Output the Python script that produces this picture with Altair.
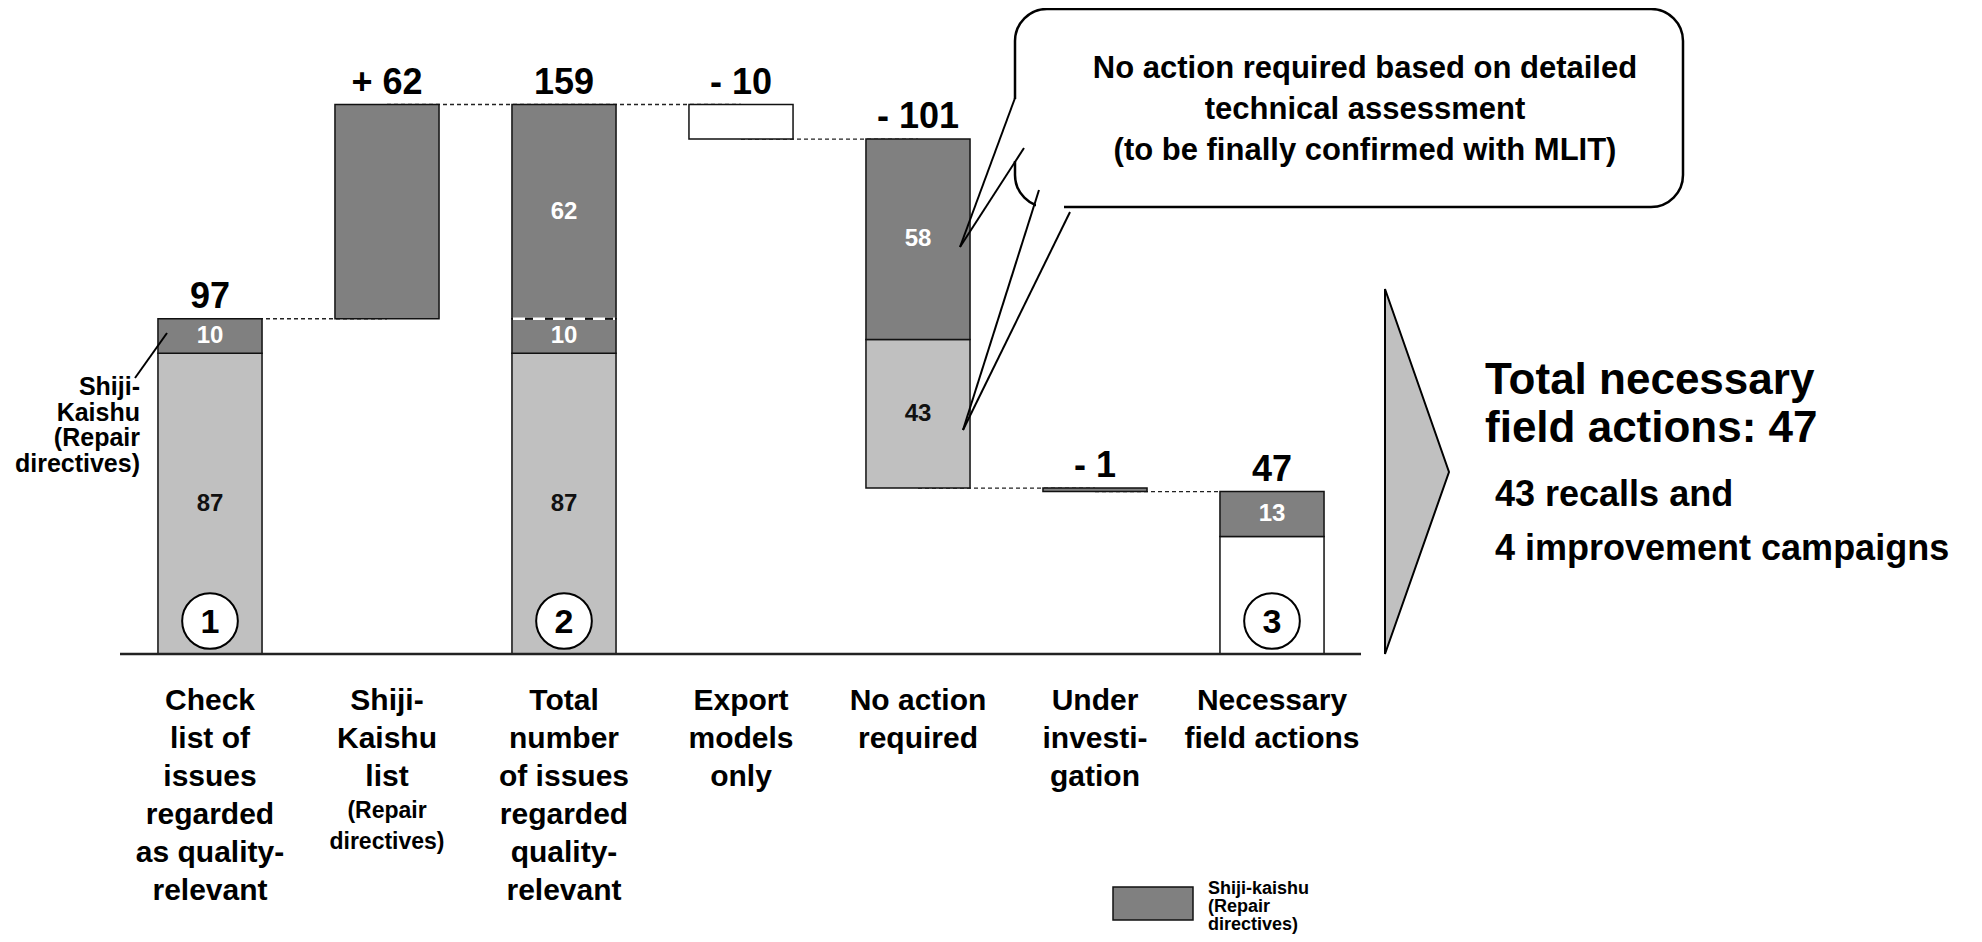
import altair as alt
import pandas as pd

# ---------------- data ----------------
categories = [
    "Check list of issues regarded as quality-relevant",
    "Shiji-Kaishu list",
    "Total number of issues regarded quality-relevant",
    "Export models only",
    "No action required",
    "Under investigation",
    "Necessary field actions",
]
cat_label_lines = [
    "Check\nlist of\nissues\nregarded\nas quality-\nrelevant",
    "Shiji-\nKaishu\nlist",
    "Total\nnumber\nof issues\nregarded\nquality-\nrelevant",
    "Export\nmodels\nonly",
    "No action\nrequired",
    "Under\ninvesti-\ngation",
    "Necessary\nfield actions",
]
cat_sublabels = ["", "(Repair\ndirectives)", "", "", "", "", ""]

bar_low = [0, 97, 0, 149, 48, 47, 0]
bar_high = [97, 159, 159, 159, 149, 48, 47]
top_labels = ["97", "+ 62", "159", "- 10", "- 101", "- 1", "47"]

seg_cat = [0, 0, 1, 2, 2, 2, 3, 4, 4, 5, 6, 6]
seg_value = [87, 10, 62, 87, 10, 62, 10, 43, 58, 1, 34, 13]
seg_kind = ["Other", "Shiji-kaishu", "Shiji-kaishu", "Other", "Shiji-kaishu",
            "Shiji-kaishu", "Removed", "Other", "Shiji-kaishu", "Shiji-kaishu",
            "Field", "Shiji-kaishu"]
seg_show = [True, True, False, True, True, True, False, True, True, False, False, True]

conn_from = [0, 1, 2, 3, 4, 5]
conn_to = [1, 2, 3, 4, 5, 6]
conn_level = [97, 159, 159, 149, 48, 47]

divider_cat = [2]
divider_level = [97]

circle_cat = [0, 2, 6]
circle_label = ["1", "2", "3"]

callout_text = "No action required based on detailed\ntechnical assessment\n(to be finally confirmed with MLIT)"
side_note = "Shiji-\nKaishu\n(Repair\ndirectives)"
summary_title = "Total necessary\nfield actions: 47"
summary_detail = "43 recalls and\n4 improvement campaigns"
legend_text = "Shiji-kaishu\n(Repair\ndirectives)"

# ---------------- tables ----------------
lo, hi = [], []
cursor = {}
for c, v in zip(seg_cat, seg_value):
    start = cursor.get(c, bar_low[c])
    lo.append(start)
    hi.append(start + v)
    cursor[c] = start + v
seg_df = pd.DataFrame({
    "cat": [categories[c] for c in seg_cat],
    "lo": lo, "hi": hi, "mid": [(a + b) / 2 for a, b in zip(lo, hi)],
    "kind": seg_kind,
    "label": [str(v) if s else "" for v, s in zip(seg_value, seg_show)],
})
top_df = pd.DataFrame({"cat": categories, "top": [max(a, b) for a, b in zip(bar_low, bar_high)],
                       "label": top_labels, "lines": cat_label_lines, "sub": cat_sublabels})
conn_df = pd.DataFrame({"c1": [categories[i] for i in conn_from],
                        "c2": [categories[i] for i in conn_to], "level": conn_level})
div_df = pd.DataFrame({"cat": [categories[i] for i in divider_cat], "level": divider_level})
circ_df = pd.DataFrame({"cat": [categories[i] for i in circle_cat], "label": circle_label})

FONT = "Liberation Sans"
X_SCALE = alt.Scale(domain=categories, range=[113.5, 1352.5], paddingInner=0.412, paddingOuter=0.206)
Y_SCALE = alt.Scale(domain=[0, 159], range=[646, 96.5], nice=False, zero=False)
FILL_SCALE = alt.Scale(domain=["Other", "Shiji-kaishu", "Removed", "Field"],
                       range=["#c0c0c0", "#808080", "#ffffff", "#ffffff"])


def X(f):
    return alt.X(f, type="nominal", scale=X_SCALE, axis=None)


def Y(f):
    return alt.Y(f, type="quantitative", scale=Y_SCALE, axis=None)


connectors = alt.Chart(conn_df).mark_rule(color="#222", strokeWidth=1.3, strokeDash=[4, 3]).encode(
    x=X("c1"), x2="c2", y=Y("level"))

bars = alt.Chart(seg_df).mark_bar(stroke="#111", strokeWidth=1.5).encode(
    x=X("cat"), y=Y("lo"), y2="hi",
    fill=alt.Fill("kind:N", scale=FILL_SCALE, legend=None))

divider = alt.Chart(div_df).mark_rule(color="white", strokeWidth=2.5, strokeDash=[12, 8],
                                      xOffset=-51, x2Offset=51).encode(
    x=X("cat"), x2="cat", y=Y("level"))

inner_labels = alt.Chart(seg_df).mark_text(font=FONT, fontWeight="bold", fontSize=24,
                                           baseline="middle").encode(
    x=X("cat"), y=Y("mid"), text="label:N",
    color=alt.Color("kind:N", scale=alt.Scale(domain=["Other", "Shiji-kaishu", "Removed", "Field"],
                                              range=["#111", "#fff", "#111", "#111"]), legend=None))

top_text = alt.Chart(top_df).mark_text(font=FONT, fontWeight="bold", fontSize=36,
                                       baseline="alphabetic", dy=-11).encode(
    x=X("cat"), y=Y("top"), text="label:N")

circles = alt.Chart(circ_df).mark_point(shape="circle", filled=True, fill="white", stroke="black",
                                        strokeWidth=2, size=3100, opacity=1).encode(
    x=X("cat"), y=alt.value(613))
circle_text = alt.Chart(circ_df).mark_text(font=FONT, fontWeight="bold", fontSize=34,
                                           baseline="middle").encode(
    x=X("cat"), y=alt.value(615), text="label:N")

axis_line = alt.Chart(pd.DataFrame({"a": [0]})).mark_rule(color="#222", strokeWidth=2.5).encode(
    x=alt.value(112), x2=alt.value(1353), y=alt.value(646))

cat_text = alt.Chart(top_df).mark_text(font=FONT, fontWeight="bold", fontSize=30, lineBreak="\n",
                                       lineHeight=38, baseline="alphabetic").encode(
    x=X("cat"), y=alt.value(702), text="lines:N")
cat_sub = alt.Chart(top_df).mark_text(font=FONT, fontWeight="bold", fontSize=23, lineBreak="\n",
                                      lineHeight=31, baseline="alphabetic").encode(
    x=X("cat"), y=alt.value(810), text="sub:N")

note = alt.Chart(pd.DataFrame({"t": [side_note]})).mark_text(
    font=FONT, fontWeight="bold", fontSize=25, lineBreak="\n", lineHeight=25.7,
    align="right", baseline="alphabetic").encode(x=alt.value(132), y=alt.value(387), text="t:N")

lines_df = pd.DataFrame({
    "x": [127, 1007, 1016, 1031, 1062],
    "y": [370, 90, 140, 182, 204],
    "x2": [159, 952, 952, 955, 955],
    "y2": [325, 239, 239, 422, 422],
})
mask_df = pd.DataFrame({"x": [1007, 1028], "y": [91, 199], "x2": [1007, 1056], "y2": [153, 199]})

callout_box = alt.Chart(pd.DataFrame({"a": [0]})).mark_rect(
    fill="white", stroke="black", strokeWidth=2.5, cornerRadius=32).encode(
    x=alt.value(1007), x2=alt.value(1675), y=alt.value(1), y2=alt.value(199))
masks = alt.Chart(mask_df).mark_rule(color="white", strokeWidth=6).encode(
    x=alt.X("x:Q", scale=None, axis=None), y=alt.Y("y:Q", scale=None, axis=None),
    x2="x2:Q", y2="y2:Q")
pointers = alt.Chart(lines_df).mark_rule(color="black", strokeWidth=2).encode(
    x=alt.X("x:Q", scale=None, axis=None), y=alt.Y("y:Q", scale=None, axis=None),
    x2="x2:Q", y2="y2:Q")
callout = alt.Chart(pd.DataFrame({"t": [callout_text]})).mark_text(
    font=FONT, fontWeight="bold", fontSize=31, lineBreak="\n", lineHeight=41,
    align="center", baseline="alphabetic").encode(x=alt.value(1357), y=alt.value(70), text="t:N")

tri_df = pd.DataFrame({"x": [1377, 1441], "y": [281, 464], "y2": [646, 464]})
triangle = alt.Chart(tri_df).mark_area(fill="#c0c0c0", stroke="black", strokeWidth=2,
                                       orient="vertical").encode(
    x=alt.X("x:Q", scale=None, axis=None), y=alt.Y("y:Q", scale=None, axis=None), y2="y2:Q")

summary1 = alt.Chart(pd.DataFrame({"t": [summary_title]})).mark_text(
    font=FONT, fontWeight="bold", fontSize=44, lineBreak="\n", lineHeight=48,
    align="left", baseline="alphabetic").encode(x=alt.value(1477), y=alt.value(386), text="t:N")
summary2 = alt.Chart(pd.DataFrame({"t": [summary_detail]})).mark_text(
    font=FONT, fontWeight="bold", fontSize=36, lineBreak="\n", lineHeight=54,
    align="left", baseline="alphabetic").encode(x=alt.value(1487), y=alt.value(498), text="t:N")

legend_box = alt.Chart(pd.DataFrame({"a": [0]})).mark_rect(
    fill="#808080", stroke="#111", strokeWidth=1.5).encode(
    x=alt.value(1105), x2=alt.value(1185), y=alt.value(879), y2=alt.value(912))
legend_lbl = alt.Chart(pd.DataFrame({"t": [legend_text]})).mark_text(
    font=FONT, fontWeight="bold", fontSize=18, lineBreak="\n", lineHeight=18,
    align="left", baseline="alphabetic").encode(x=alt.value(1200), y=alt.value(886), text="t:N")

chart = alt.layer(
    connectors, bars, divider, inner_labels, top_text, circles, circle_text, axis_line,
    cat_text, cat_sub, note, callout_box, masks, pointers, callout, triangle,
    summary1, summary2, legend_box, legend_lbl,
).resolve_scale(
    x="independent", y="independent", color="independent", fill="independent"
).properties(
    width=1966, height=926, autosize=alt.AutoSizeParams(type="none"), padding=0,
    background="white",
).configure_view(stroke=None)

chart.save("out.html", embed_options={"renderer": "svg", "actions": False})
